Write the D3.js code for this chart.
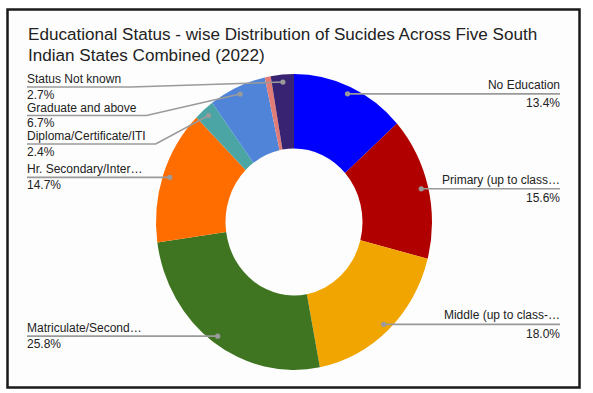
<!DOCTYPE html>
<html>
<head>
<meta charset="utf-8">
<script src="https://cdn.jsdelivr.net/npm/d3@7"></script>
<style>
  body { margin: 0; background: #fff; }
  svg { display: block; font-family: "Liberation Sans", Arial, sans-serif; }
</style>
</head>
<body>
<svg id="chart"></svg>
<script>
// data (share of suicides, %)
const categories = [
  "No Education",
  "Primary (up to class 5th)",
  "Middle (up to class-VIIIth)",
  "Matriculate/Secondary (up to class 10th)",
  "Hr. Secondary/Intermediate/Pre-University",
  "Diploma/Certificate/ITI",
  "Graduate and above",
  "Professionals (MBA etc.)",
  "Status Not known"
];
const values = [13.4, 15.6, 18.0, 25.8, 14.7, 2.4, 6.7, 0.7, 2.7];
const colors = ["#0000ff", "#b00000", "#f1a500", "#3f7521", "#ff6d01", "#4ca5a5", "#4f84d8", "#e27c77", "#372372"];
const titleLines = [
  "Educational Status - wise Distribution of Sucides Across Five South",
  "Indian States Combined (2022)"
];

class donutChart {
  constructor(_config) {
    this.config = {
      parentElement: _config.parentElement,
      containerWidth: 593,
      containerHeight: 393,
      cx: 294, cy: 222,
      outer: 138, inner: 68.5, yStretch: 1.072,
      dotRadius: 131,
      maxLabelWidth: 120
    };
    this.initVis();
  }

  initVis() {
    let vis = this;
    let c = vis.config;

    vis.svg = d3.select(c.parentElement)
      .attr('width', c.containerWidth)
      .attr('height', c.containerHeight);

    // frame
    vis.svg.append('rect')
      .attr('x', 7.5).attr('y', 9.5)
      .attr('width', 572).attr('height', 378)
      .attr('fill', '#fdfdfd')
      .attr('stroke', '#1a1a1a')
      .attr('stroke-width', 2.5);

    vis.svg.selectAll('.title')
      .data(titleLines)
      .enter()
      .append('text')
      .attr('class', 'title')
      .attr('x', 28)
      .attr('y', (d, i) => 39.5 + i * 21.5)
      .attr('font-size', 17.1)
      .attr('fill', '#222')
      .text(d => d);

    vis.updateVis();
  }

  updateVis() {
    let vis = this;
    let c = vis.config;

    vis.data = categories.map((name, i) => ({ name, value: values[i], color: colors[i] }));
    vis.total = d3.sum(values);

    vis.pie = d3.pie().sort(null).value(d => d.value);
    vis.arcs = vis.pie(vis.data);

    vis.arc = d3.arc().innerRadius(c.inner).outerRadius(c.outer);
    vis.dotArc = d3.arc().innerRadius(c.dotRadius).outerRadius(c.dotRadius);

    vis.renderVis();
  }

  renderVis() {
    let vis = this;
    let c = vis.config;

    vis.svg.append('g')
      .attr('transform', `translate(${c.cx},${c.cy}) scale(1,${c.yStretch})`)
      .selectAll('path')
      .data(vis.arcs)
      .enter()
      .append('path')
      .attr('d', vis.arc)
      .attr('fill', d => d.data.color);

    // labels: small slices get none
    let labelled = vis.arcs.filter(d => d.data.value / vis.total >= 0.01).map(d => {
      let p = vis.dotArc.centroid(d);
      let mid = (d.startAngle + d.endAngle) / 2;
      return {
        d: d,
        x: c.cx + p[0],
        y: c.cy + p[1] * c.yStretch,
        right: mid < Math.PI
      };
    });

    // left labels stack downward from the top
    let left = labelled.filter(l => !l.right).sort((a, b) => a.y - b.y);
    let prev = 87 - 28.5;
    left.forEach(l => { l.ly = Math.max(l.y, prev + 28.5); prev = l.ly; });
    labelled.filter(l => l.right).forEach(l => { l.ly = l.y; });

    let g = vis.svg.append('g');
    let fmt = d3.format('.1f');

    labelled.forEach(l => {
      let tx = l.right ? 560 : 27;
      let up = l.right ? 5 : 4;
      let down = l.right ? 13.5 : 11.5;
      let name = g.append('text')
        .attr('x', tx)
        .attr('y', l.ly - up)
        .attr('text-anchor', l.right ? 'end' : 'start')
        .attr('font-size', 12)
        .attr('fill', '#222')
        .text(l.d.data.name);
      vis.truncate(name, l.d.data.name, c.maxLabelWidth);

      g.append('text')
        .attr('x', tx)
        .attr('y', l.ly + down)
        .attr('text-anchor', l.right ? 'end' : 'start')
        .attr('font-size', 12)
        .attr('fill', '#222')
        .text(fmt(l.d.data.value / vis.total * 100) + '%');

      let w = name.node().getComputedTextLength();
      let pts;
      if (l.right) {
        pts = [[l.x, l.ly], [tx, l.ly]];
      } else {
        let bend = Math.min(tx + w + 10, l.x);
        pts = [[tx, l.ly], [bend, l.ly], [l.x, l.y]];
      }
      g.append('path')
        .attr('d', d3.line()(pts))
        .attr('fill', 'none')
        .attr('stroke', '#9a9a9a')
        .attr('stroke-width', 1.6);

      g.append('circle')
        .attr('cx', l.x).attr('cy', l.y)
        .attr('r', 2.6)
        .attr('fill', '#9a9a9a');
    });
  }

  truncate(sel, full, maxW) {
    if (sel.node().getComputedTextLength() <= maxW) return;
    let s = full;
    while (s.length > 1) {
      s = s.slice(0, -1);
      sel.text(s.trimEnd() + '\u2026');
      if (sel.node().getComputedTextLength() <= maxW) return;
    }
  }
}

new donutChart({ parentElement: '#chart' });
</script>
</body>
</html>
